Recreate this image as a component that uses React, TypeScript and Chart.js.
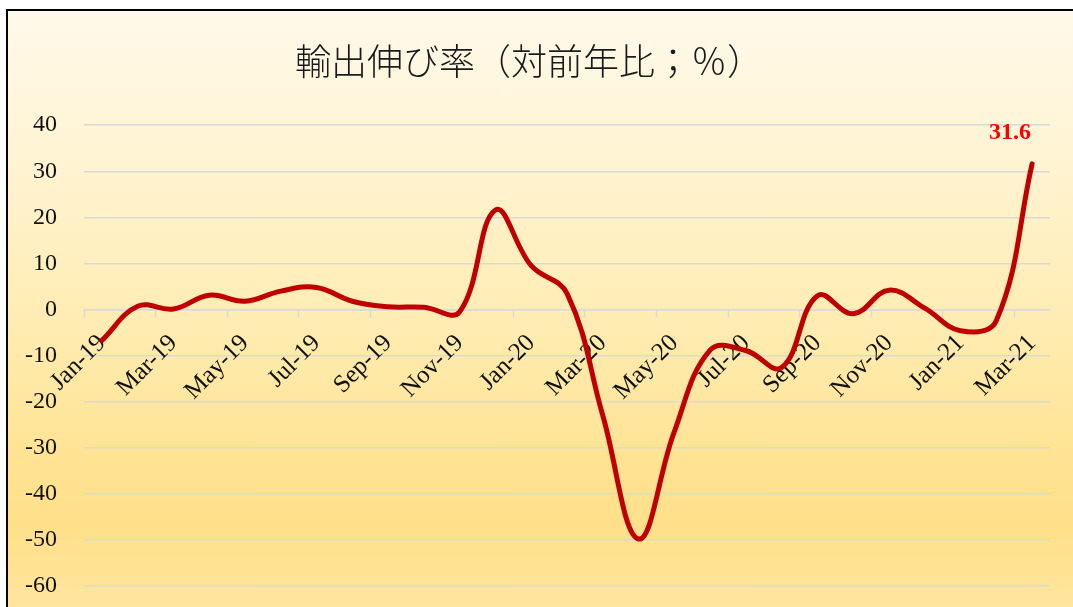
import React, { useEffect, useRef } from 'react';
import { Chart, registerables } from 'chart.js';

Chart.register(...registerables);

const TITLE = '輸出伸び率（対前年比；％）';

const months = [
  'Jan-19', 'Feb-19', 'Mar-19', 'Apr-19', 'May-19', 'Jun-19', 'Jul-19', 'Aug-19', 'Sep-19',
  'Oct-19', 'Nov-19', 'Dec-19', 'Jan-20', 'Feb-20', 'Mar-20', 'Apr-20', 'May-20', 'Jun-20',
  'Jul-20', 'Aug-20', 'Sep-20', 'Oct-20', 'Nov-20', 'Dec-20', 'Jan-21', 'Feb-21', 'Mar-21',
];

const exportGrowth = [
  -6.7, 0.7, 0.1, 3.1, 1.8, 4.0, 4.8, 1.8, 0.6,
  0.5, -0.5, 21.6, 9.5, 3.5, -23.0, -49.8, -26.5, -8.8,
  -8.9, -12.6, 3.0, -0.9, 4.2, 0.3, -4.6, -2.4, 31.6,
];

const yMin = -60;
const yMax = 40;
const yStep = 10;

const SERIF = '"Liberation Serif", "Times New Roman", serif';

const lastLabelPlugin = {
  id: 'lastLabel',
  afterDatasetsDraw(chart: any) {
    const meta = chart.getDatasetMeta(0);
    const i = exportGrowth.length - 1;
    const pt = meta.data[i];
    if (!pt) return;
    const ctx = chart.ctx;
    ctx.save();
    ctx.font = `bold 24px ${SERIF}`;
    ctx.fillStyle = '#FF0000';
    ctx.textAlign = 'center';
    ctx.textBaseline = 'middle';
    ctx.fillText(exportGrowth[i].toFixed(1), pt.x - 22, pt.y - 31);
    ctx.restore();
  },
};

export default function App() {
  const ref = useRef<HTMLCanvasElement>(null);

  useEffect(() => {
    const canvas = ref.current;
    if (!canvas) return;
    const chart = new Chart(canvas, {
      type: 'line',
      data: {
        labels: months,
        datasets: [
          {
            data: exportGrowth,
            borderColor: '#C00000',
            backgroundColor: '#C00000',
            borderWidth: 5,
            pointRadius: 0,
            pointHoverRadius: 0,
            tension: 0.4,
            fill: false,
            borderCapStyle: 'round',
            borderJoinStyle: 'round',
          } as any,
        ],
      },
      options: {
        responsive: false,
        animation: false,
        devicePixelRatio: 1,
        layout: { padding: { left: 0, right: 14, top: 0, bottom: 65 } },
        plugins: {
          legend: { display: false },
          tooltip: { enabled: false },
          title: {
            display: true,
            text: TITLE,
            color: '#1a1a1a',
            font: { family: '"Noto Sans CJK JP", sans-serif', size: 36, weight: '300' as any, lineHeight: 1.2 },
            padding: { top: 29, bottom: 42 },
          },
        },
        scales: {
          x: {
            type: 'category',
            position: { y: 0 } as any,
            offset: true,
            grid: {
              offset: true,
              drawOnChartArea: false,
              drawTicks: true,
              tickLength: 7,
              tickWidth: 1.5,
              tickColor: (c: any) => (c.index % 2 === 0 ? '#d9d9d9' : 'rgba(0,0,0,0)'),
            },
            border: { display: true, color: '#d9d9d9', width: 1.5 },
            ticks: {
              autoSkip: false,
              maxRotation: 45,
              minRotation: 45,
              padding: 21,
              color: '#111111',
              font: { family: SERIF, size: 25, lineHeight: 0.2 },
              callback: (_v: any, i: number) => (i % 2 === 0 ? months[i] : ''),
            },
            afterFit: (s: any) => {
              s.height = 0;
            },
          },
          y: {
            min: yMin,
            max: yMax,
            ticks: {
              stepSize: yStep,
              padding: 27,
              color: '#111111',
              font: { family: SERIF, size: 24 },
            },
            grid: { color: '#d9d9d9', lineWidth: 1.5, drawTicks: false },
            border: { display: false },
            afterFit: (s: any) => {
              s.width = 76;
            },
          },
        },
      },
      plugins: [lastLabelPlugin],
    });
    return () => chart.destroy();
  }, []);

  return (
    <div
      style={{
        position: 'fixed',
        left: 0,
        top: 0,
        width: 1073,
        height: 607,
        overflow: 'hidden',
        background: '#ffffff',
      }}
    >
      <div
        style={{
          position: 'absolute',
          left: 6,
          top: 9,
          width: 1120,
          height: 660,
          borderLeft: '2px solid #000',
          borderTop: '2px solid #000',
          background:
            'linear-gradient(to bottom, #FFF9EA 0%, #FFF3D0 25%, #FFEDB5 45%, #FFE393 68%, #FFE08A 78%, #FFE6A0 92%, #FFE8A8 100%)',
        }}
      >
        <canvas
          ref={ref}
          width={1056}
          height={640}
          style={{ position: 'absolute', left: 0, top: 0, width: 1056, height: 640, display: 'block' }}
        />
      </div>
    </div>
  );
}
